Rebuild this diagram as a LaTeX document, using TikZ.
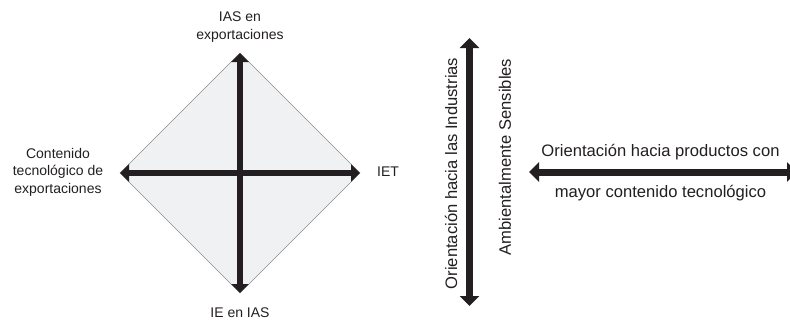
\documentclass[tikz,border=0pt]{standalone}
\usepackage{fontspec}
\setmainfont{Liberation Sans}
\usetikzlibrary{arrows.meta}
\definecolor{ink}{HTML}{231F20}
\definecolor{paper}{HTML}{F0F1F2}
\begin{document}
\begin{tikzpicture}[x=1pt,y=-1pt,
  thick arrow/.style={line width=6pt,{Triangle[length=9pt,width=17pt]}-{Triangle[length=9pt,width=17pt]},draw=ink},
  big arrow/.style={line width=7pt,{Triangle[length=10pt,width=19pt]}-{Triangle[length=10pt,width=19pt]},draw=ink},
  lbl/.style={font=\fontsize{14}{17.5}\selectfont,align=center,inner sep=0pt,text=ink},
  biglbl/.style={font=\fontsize{16.6}{20}\selectfont,inner sep=0pt,text=ink}]
\useasboundingbox (0,0) rectangle (790,325);
\clip (0,0) rectangle (790,325);
\coordinate (T) at (240,53);
\coordinate (B) at (240,293);
\coordinate (L) at (120,173);
\coordinate (R) at (360,173);
\fill[paper] (T) -- (R) -- (B) -- (L) -- cycle;
\draw[black!45,line width=0.6pt] (T) -- (R) -- (B) -- (L) -- cycle;
\draw[thick arrow] (B) -- (T);
\draw[thick arrow] (L) -- (R);
\node[lbl] (top) at (240,27) {IAS en\\exportaciones};
\node[lbl] (bot) at (240,313) {IE en IAS};
\node[lbl,anchor=west] (iet) at (377,172) {IET};
\node[lbl] (cont) at (58,172) {Contenido\\tecnológico de\\exportaciones};
\coordinate (VT) at (469.5,38);
\coordinate (VB) at (469.5,306);
\draw[big arrow] (VB) -- (VT);
\node[biglbl,rotate=90] (v1) at (451,173.5) {Orientación hacia las Industrias};
\node[biglbl,rotate=90] (v2) at (505,157) {Ambientalmente Sensibles};
\coordinate (HL) at (529,172);
\coordinate (HR) at (797,172);
\draw[big arrow] (HL) -- (HR);
\node[biglbl] (h1) at (660.5,152) {Orientación hacia productos con};
\node[biglbl] (h2) at (660.5,193) {mayor contenido tecnológico};
\end{tikzpicture}
\end{document}
